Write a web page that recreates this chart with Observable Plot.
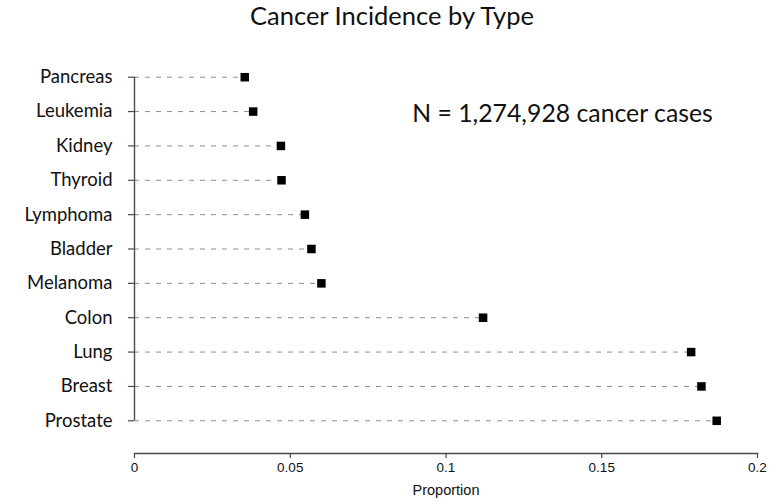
<!DOCTYPE html>
<html>
<head>
<meta charset="utf-8">
<script src="https://cdn.jsdelivr.net/npm/d3@7"></script>
<script src="https://cdn.jsdelivr.net/npm/@observablehq/plot@0.6"></script>
<style>
  html, body { margin: 0; padding: 0; background: #fff; overflow: hidden; }
  #chart svg { display: block; font-family: "Liberation Sans", Arial, sans-serif; color: #111; }
</style>
</head>
<body>
<div id="chart"></div>
<script>
// Share of all cancer cases, by cancer type (top to bottom)
const cancerTypes = ["Pancreas", "Leukemia", "Kidney", "Thyroid", "Lymphoma", "Bladder", "Melanoma", "Colon", "Lung", "Breast", "Prostate"];
const proportions = [0.0354, 0.0381, 0.0470, 0.0472, 0.0547, 0.0568, 0.0600, 0.1119, 0.1787, 0.1820, 0.1869];
const xTicks = [0, 0.05, 0.1, 0.15, 0.2];
const titleText = "Cancer Incidence by Type";
const noteText = "N = 1,274,928 cancer cases";
const xLabel = "Proportion";

const rows = cancerTypes.map((type, i) => ({type, p: proportions[i]}));

const sansTitle = "Lato, 'Open Sans', sans-serif";
const axisColor = "#4a4a4a";

const chart = Plot.plot({
  width: 784,
  height: 502,
  marginLeft: 134,
  marginRight: 27,
  marginTop: 44,
  marginBottom: 49,
  x: {domain: [0, 0.2], ticks: xTicks},
  y: {type: "point", domain: cancerTypes, padding: 0.952, round: false},
  marks: [
    // dashed leader from the axis to each point
    Plot.ruleY(rows, {y: "type", x1: 0, x2: "p", stroke: "#8c8c8c", strokeWidth: 1, strokeDasharray: "5,6"}),
    // left axis line spans the first to the last category
    Plot.ruleX([0], {y1: () => cancerTypes[0], y2: () => cancerTypes[cancerTypes.length - 1], stroke: axisColor, strokeWidth: 1.4}),
    Plot.axisY({tickSize: 6, tickPadding: 16, label: null, fontSize: 18.5, fontFamily: sansTitle, stroke: axisColor, strokeWidth: 1.2}),
    // bottom axis line across the x domain
    Plot.frame({anchor: "bottom", stroke: axisColor, strokeWidth: 1.4}),
    Plot.axisX({ticks: xTicks, tickSize: 5, tickPadding: 4, label: null, fontSize: 13.5, stroke: axisColor, strokeWidth: 1.2, tickFormat: d => String(d)}),
    Plot.text([xLabel], {frameAnchor: "bottom", dy: 37, lineAnchor: "middle", fontSize: 14.5, fill: "#111"}),
    // points
    Plot.dot(rows, {x: "p", y: "type", symbol: "square", r: 4.8, fill: "#000", stroke: "none"}),
    // title and sample size note
    Plot.text([titleText], {frameAnchor: "top", dx: -54, dy: -28, lineAnchor: "middle", fontSize: 25.5, fontFamily: sansTitle, fill: "#111"}),
    Plot.text([noteText], {frameAnchor: "top", dx: 116.5, dy: 69.5, lineAnchor: "middle", fontSize: 24.8, fontFamily: sansTitle, fill: "#111"})
  ]
});

document.getElementById("chart").appendChild(chart);
</script>
</body>
</html>
